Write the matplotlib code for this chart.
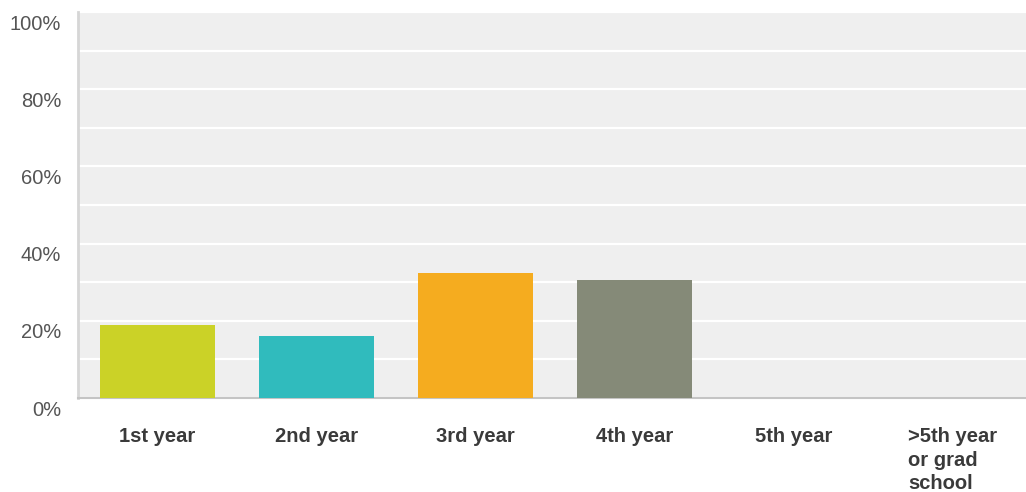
import matplotlib.pyplot as plt
from matplotlib.transforms import ScaledTranslation

plt.rcParams['font.family'] = ['Liberation Sans', 'DejaVu Sans']

# survey answers: class year
years = ['1st year', '2nd year', '3rd year', '4th year', '5th year',
         '>5th year\nor grad\nschool']
pct = [19.0, 16.1, 32.5, 30.6, 0.0, 0.0]
colors = ['#cbd227', '#30bbbd', '#f5ac1f', '#858a78', '#6f9fd0', '#c45a9a']

fig = plt.figure(figsize=(10.26, 4.92), dpi=100)
ax = fig.add_axes([0.076, 0.191, 0.930, 0.7846])
ax.set_facecolor('#efefef')

x = list(range(len(years)))
ax.bar(x, pct, width=0.72, color=colors, zorder=3)

ax.set_xlim(-0.5, len(years) - 0.5)
ax.set_ylim(0, 100)

# white grid every 10%, labels every 20%
ax.set_yticks(range(0, 101, 20))
ax.set_yticks(range(10, 100, 20), minor=True)
ax.set_yticklabels([f'{v}%' for v in range(0, 101, 20)])
ax.grid(axis='y', which='both', color='white', linewidth=1.6, zorder=1)
ax.tick_params(axis='y', which='both', length=0, pad=12,
               labelsize=14.5, labelcolor='#555555')
off = ScaledTranslation(0, -0.1, fig.dpi_scale_trans)
for lab in ax.get_yticklabels():
    lab.set_transform(lab.get_transform() + off)

ax.set_xticks(x)
ax.set_xticklabels(years, fontweight='bold', multialignment='left',
                   linespacing=1.3)
ax.tick_params(axis='x', length=0, pad=21, labelsize=14.5,
               labelcolor='#3a3a3a')

for s in ['top', 'right']:
    ax.spines[s].set_visible(False)
ax.spines['left'].set_color('#d6d6d6')
ax.spines['left'].set_linewidth(2)
ax.spines['bottom'].set_color('#c4c4c4')
ax.spines['bottom'].set_linewidth(1.5)

fig.savefig('out.png', dpi=100)
